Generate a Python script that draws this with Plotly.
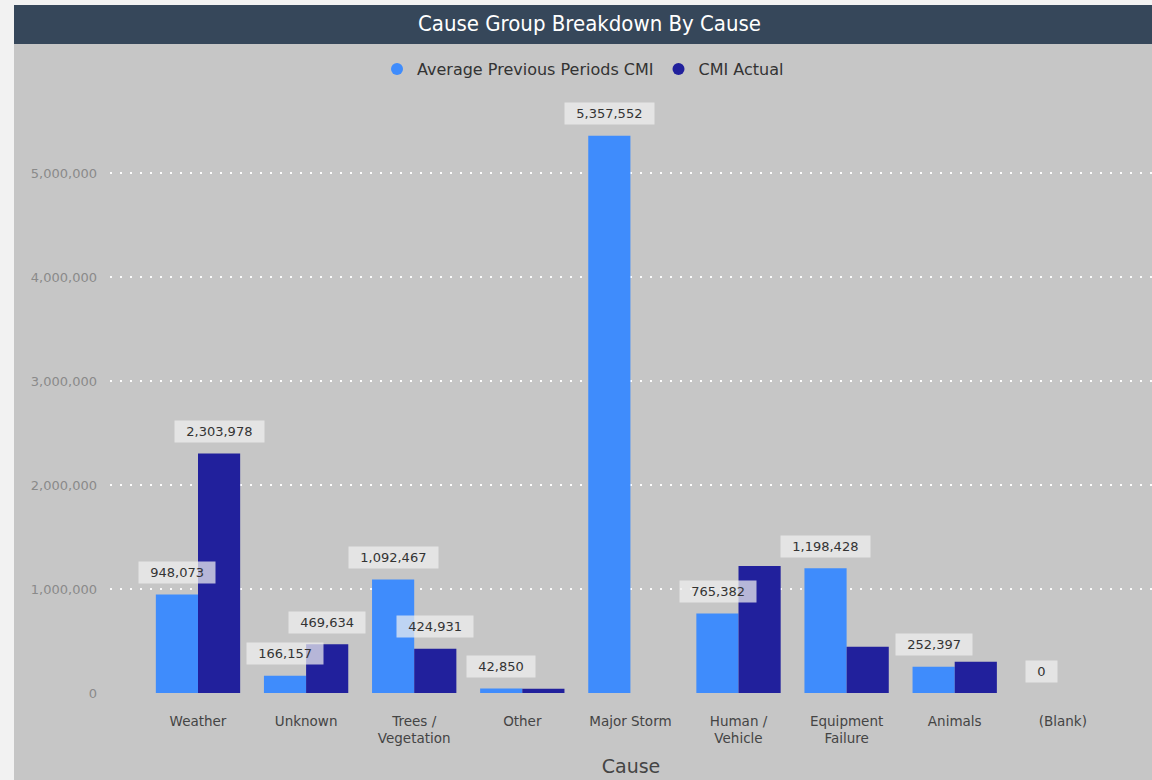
import plotly.graph_objects as go

causes = ["Weather", "Unknown", "Trees /<br>Vegetation", "Other", "Major Storm",
          "Human /<br>Vehicle", "Equipment<br>Failure", "Animals", "(Blank)"]
avg_prev = [948073, 166157, 1092467, 42850, 5357552, 765382, 1198428, 252397, 0]
cmi_actual = [2303978, 469634, 424931, 40000, None, 1220000, 445000, 300000, None]
# which data labels are displayed (Power BI hides overlapping ones)
show_avg_label = [True, True, True, True, True, True, True, True, True]
show_act_label = [True, True, True, False, False, False, False, False, False]

c_avg = "#3f8cfc"
c_act = "#21209c"
bg = "#c6c6c6"
FONT = "DejaVu Sans, sans-serif"

W, H = 1152, 780
L, R, T, B = 110, 0, 95, 87
pw, ph = W - L - R, H - T - B


def px(x):
    return (x - L) / pw


def py(y):
    return (H - B - y) / ph


fig = go.Figure()
fig.add_trace(go.Bar(x=causes, y=avg_prev, name="Average Previous Periods CMI",
                     marker=dict(color=c_avg, line=dict(width=0)), showlegend=False))
fig.add_trace(go.Bar(x=causes, y=cmi_actual, name="CMI Actual",
                     marker=dict(color=c_act, line=dict(width=0)), showlegend=False))
# legend entries with circle markers
fig.add_trace(go.Scatter(x=[None], y=[None], mode="markers", name="Average Previous Periods CMI",
                         marker=dict(symbol="circle", size=13, color=c_avg)))
fig.add_trace(go.Scatter(x=[None], y=[None], mode="markers", name="CMI Actual",
                         marker=dict(symbol="circle", size=13, color=c_act)))

annotations = []
label_font = dict(family=FONT, size=13, color="#333333")
nb = "\u00a0\u00a0"
for i, c in enumerate(causes):
    if show_avg_label[i] and avg_prev[i] is not None:
        annotations.append(dict(x=c, y=avg_prev[i], xref="x", yref="y",
                                text=nb + f"{avg_prev[i]:,}" + nb, showarrow=False,
                                xshift=-21, yshift=22, yanchor="middle",
                                font=label_font, bgcolor="rgba(240,240,240,0.72)",
                                borderpad=3))
    if show_act_label[i] and cmi_actual[i] is not None:
        annotations.append(dict(x=c, y=cmi_actual[i], xref="x", yref="y",
                                text=nb + f"{cmi_actual[i]:,}" + nb, showarrow=False,
                                xshift=21, yshift=22, yanchor="middle",
                                font=label_font, bgcolor="rgba(240,240,240,0.72)",
                                borderpad=3))

annotations.append(dict(x=px(589), y=py(24), xref="paper", yref="paper",
                        text="Cause Group Breakdown By Cause", showarrow=False,
                        font=dict(family="DejaVu Sans Condensed, sans-serif", size=22, color="white"),
                        xanchor="center", yanchor="middle"))

shapes = [
    dict(type="rect", xref="paper", yref="paper", x0=px(0), x1=px(W), y0=py(0), y1=py(H),
         fillcolor="#f2f2f2", line_width=0, layer="below"),
    dict(type="rect", xref="paper", yref="paper", x0=px(14), x1=px(W), y0=py(44), y1=py(H),
         fillcolor=bg, line_width=0, layer="below"),
    dict(type="rect", xref="paper", yref="paper", x0=px(14), x1=px(W), y0=py(5), y1=py(44),
         fillcolor="#36475a", line_width=0, layer="below"),
]

fig.update_layout(
    width=W, height=H,
    margin=dict(l=L, r=R, t=T, b=B),
    paper_bgcolor="white",
    plot_bgcolor="rgba(0,0,0,0)",
    barmode="group", bargap=0.22, bargroupgap=0,
    font=dict(family=FONT, color="#444444"),
    legend=dict(orientation="h", x=px(583), xanchor="center", y=py(69), yanchor="middle",
                font=dict(size=16, color="#333333"), bgcolor="rgba(0,0,0,0)",
                itemwidth=30, itemsizing="constant"),
    annotations=annotations,
    shapes=shapes,
    xaxis=dict(range=[-0.814, 8.825], showgrid=False, zeroline=False, showline=False,
               tickfont=dict(size=13.5, color="#444444"), ticks="", ticklabelstandoff=18,
               title=dict(text="Cause", font=dict(size=19, color="#444444"), standoff=14)),
    yaxis=dict(range=[0, 5.75e6], tickvals=[0, 1e6, 2e6, 3e6, 4e6, 5e6], tickformat=",",
               showgrid=True, gridcolor="rgba(255,255,255,0.95)", griddash="2px,8px", gridwidth=1.5,
               zeroline=False, showline=False, ticks="",
               tickfont=dict(size=13, color="#8a8a8a"), ticklabelstandoff=12),
)

fig.write_html("out.html", config={"displayModeBar": False},
               post_script="document.body.style.margin='0';")
